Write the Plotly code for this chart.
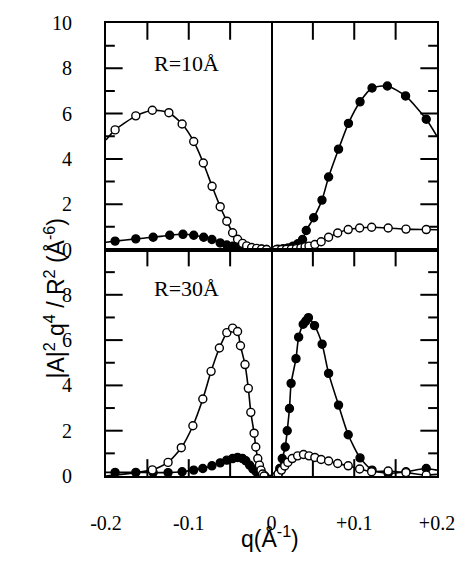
import plotly.graph_objects as go

# ---------------- data ----------------
# Top panel, R = 10 Å
top_open_x = [-0.189, -0.164, -0.144, -0.124, -0.108, -0.094, -0.0824, -0.0718, -0.062, -0.054,
              -0.047, -0.041, -0.035, -0.030, -0.024, -0.018, -0.012, -0.006,
              0.006, 0.012, 0.018, 0.024, 0.030, 0.0355, 0.0406, 0.0453, 0.0524, 0.060,
              0.069, 0.080, 0.0927, 0.1065, 0.121, 0.141, 0.1625, 0.187]
top_open_y = [5.28, 5.90, 6.15, 6.04, 5.54, 4.77, 3.82, 2.79, 1.89, 1.25,
              0.74, 0.45, 0.27, 0.16, 0.09, 0.05, 0.02, 0.0,
              0.0, 0.0, 0.01, 0.02, 0.04, 0.07, 0.12, 0.15, 0.22, 0.34,
              0.54, 0.73, 0.88, 0.95, 0.98, 0.95, 0.90, 0.88]
top_open_edges = [4.84, 0.87]          # curve values at q = -0.2 and +0.2

top_fill_x = [-0.189, -0.164, -0.143, -0.123, -0.107, -0.094, -0.082, -0.072, -0.062, -0.054,
              -0.047, -0.041, -0.035, -0.030, -0.024, -0.018, -0.012, -0.006,
              0.008, 0.014, 0.020, 0.026, 0.032, 0.0375, 0.042, 0.051, 0.061, 0.069,
              0.081, 0.093, 0.107, 0.1215, 0.140, 0.162, 0.187]
top_fill_y = [0.37, 0.47, 0.54, 0.63, 0.67, 0.63, 0.54, 0.44, 0.29, 0.20,
              0.15, 0.10, 0.07, 0.05, 0.03, 0.02, 0.01, 0.0,
              0.01, 0.03, 0.07, 0.15, 0.26, 0.44, 0.84, 1.40, 2.18, 3.20,
              4.43, 5.57, 6.52, 7.13, 7.22, 6.78, 5.75]
top_fill_edges = [0.32, 5.00]

# Bottom panel, R = 30 Å
bot_open_x = [-0.144, -0.125, -0.109, -0.095, -0.083, -0.073, -0.063, -0.054, -0.047, -0.041,
              -0.0375, -0.032, -0.028, -0.025, -0.021, -0.019, -0.0166, -0.0146, -0.0127,
              -0.0107, -0.009,
              0.006, 0.008, 0.012, 0.016, 0.0197, 0.025, 0.0316, 0.0387, 0.0453, 0.0524,
              0.060, 0.069, 0.080, 0.0927, 0.1065, 0.121, 0.141, 0.1625, 0.187]
bot_open_y = [0.27, 0.60, 1.25, 2.22, 3.40, 4.62, 5.65, 6.33, 6.53, 6.38,
              5.75, 4.92, 3.87, 2.81, 1.89, 1.28, 0.77, 0.48, 0.26,
              0.09, 0.0,
              0.0, 0.09, 0.26, 0.44, 0.60, 0.77, 0.89, 0.95, 0.89, 0.82,
              0.73, 0.66, 0.55, 0.45, 0.31, 0.19, 0.22, 0.15, 0.04]
bot_open_edges = [0.0, 0.07]

bot_fill_x = [-0.189, -0.164, -0.143, -0.125, -0.108, -0.094, -0.083, -0.072, -0.062, -0.054,
              -0.047, -0.041, -0.035, -0.031, -0.0264, -0.0225, -0.0186, -0.015, -0.012, -0.008,
              0.008, 0.0099, 0.013, 0.0166, 0.019, 0.0217, 0.0237, 0.0296, 0.0328, 0.0383,
              0.0414, 0.0446, 0.052, 0.0612, 0.069, 0.081, 0.0927, 0.107, 0.1215, 0.141,
              0.1625, 0.187]
bot_fill_y = [0.16, 0.16, 0.15, 0.15, 0.19, 0.26, 0.33, 0.45, 0.58, 0.70,
              0.77, 0.82, 0.77, 0.67, 0.48, 0.31, 0.19, 0.09, 0.03, 0.0,
              0.10, 0.33, 0.77, 1.28, 2.00, 2.98, 4.09, 5.18, 6.13, 6.70,
              6.84, 6.99, 6.64, 5.82, 4.53, 3.13, 1.82, 0.80, 0.26, 0.12,
              0.19, 0.33]
bot_fill_edges = [0.16, 0.26]

x_range = [-0.2, 0.2]
y_range = [0, 10]
x_tickvals = [-0.2, -0.15, -0.1, -0.05, 0.0, 0.05, 0.1, 0.15, 0.2]
x_ticktext = ["-0.2", "", "-0.1", "", "0", "", "+0.1", "", "+0.2"]
top_y_ticks = [0, 2, 4, 6, 8, 10]
bot_y_ticks = [0, 2, 4, 6, 8]
y_minor_ticks = [1, 3, 5, 7, 9]
y_major_inner = [2, 4, 6, 8]
panel_labels = ["R=10Å", "R=30Å"]

# ---------------- figure ----------------
SERIF = "Liberation Serif"
SANS = "Liberation Sans"
NOGRID = "rgba(0,0,0,0)"
W, H = 467, 567
M = dict(l=106, r=23, t=19, b=91)
MAJOR_LEN, MINOR_LEN = 17, 9
plot_w = W - M["l"] - M["r"]
panel_h = (H - M["t"] - M["b"]) / 2.0
x_per_px = (x_range[1] - x_range[0]) / plot_w
y_per_px = (y_range[1] - y_range[0]) / panel_h

fig = go.Figure()

# inward tick marks, drawn on each panel's own scales
inner_x = [v for v in x_tickvals if x_range[0] < v < x_range[1] and v != 0.0]
for xa, ya, bottom_ticks in (("x", "y", False), ("x2", "y2", True)):
    tx, ty = [], []
    for v in inner_x:
        tx += [v, v, None]
        ty += [y_range[1], y_range[1] - MAJOR_LEN * y_per_px, None]
        if bottom_ticks:
            tx += [v, v, None]
            ty += [y_range[0], y_range[0] + MAJOR_LEN * y_per_px, None]
    for vals, ln in ((y_major_inner, MAJOR_LEN), (y_minor_ticks, MINOR_LEN)):
        for v in vals:
            tx += [x_range[0], x_range[0] + ln * x_per_px, None,
                   x_range[1], x_range[1] - ln * x_per_px, None]
            ty += [v, v, None, v, v, None]
    fig.add_trace(go.Scatter(x=tx, y=ty, mode="lines", xaxis=xa, yaxis=ya,
                             line=dict(color="black", width=2), showlegend=False,
                             hoverinfo="skip"))


def add_series(xs, ys, edges, xa, ya, filled):
    lx = [x_range[0]] + xs + [x_range[1]]
    ly = [edges[0]] + ys + [edges[1]]
    fig.add_trace(go.Scatter(x=lx, y=ly, mode="lines", xaxis=xa, yaxis=ya,
                             line=dict(color="black", width=1.6, shape="spline", smoothing=0.6),
                             showlegend=False, hoverinfo="skip"))
    fig.add_trace(go.Scatter(x=xs, y=ys, mode="markers", xaxis=xa, yaxis=ya,
                             marker=dict(symbol="circle", size=8,
                                         color="black" if filled else "white",
                                         line=dict(color="black", width=1.4)),
                             showlegend=False))


add_series(top_fill_x, top_fill_y, top_fill_edges, "x", "y", True)
add_series(top_open_x, top_open_y, top_open_edges, "x", "y", False)
add_series(bot_fill_x, bot_fill_y, bot_fill_edges, "x2", "y2", True)
add_series(bot_open_x, bot_open_y, bot_open_edges, "x2", "y2", False)

tickfont = dict(family=SERIF, size=20, color="black")
frame = dict(showline=True, mirror=True, linecolor="black", linewidth=2, gridcolor=NOGRID)
# transparent outside ticks only set the gap between the frame and the labels
spacer_x = dict(ticks="outside", ticklen=28, tickcolor=NOGRID)
spacer_y = dict(ticks="outside", ticklen=28, tickcolor=NOGRID)

fig.update_layout(
    width=W, height=H, margin=M,
    paper_bgcolor="white", plot_bgcolor="white",
    xaxis={**frame, "anchor": "y", "side": "top", "range": x_range, "tickvals": x_tickvals,
           "showticklabels": False, "ticks": "",
           "zeroline": True, "zerolinecolor": "black", "zerolinewidth": 2},
    xaxis2={**frame, **spacer_x, "anchor": "y2", "side": "bottom", "range": x_range,
            "tickvals": x_tickvals, "ticktext": x_ticktext,
            "zeroline": True, "zerolinecolor": "black", "zerolinewidth": 2,
            "tickfont": tickfont},
    yaxis={**frame, **spacer_y, "domain": [0.5, 1.0], "anchor": "x", "range": y_range,
           "tickvals": top_y_ticks, "zeroline": False, "tickfont": tickfont},
    yaxis2={**frame, **spacer_y, "domain": [0.0, 0.5], "anchor": "x2", "range": y_range,
            "tickvals": bot_y_ticks, "zeroline": False, "tickfont": tickfont},
)

fig.add_annotation(x=-0.103, y=8.2, xref="x", yref="y", text=panel_labels[0], showarrow=False,
                   font=dict(family=SERIF, size=22, color="black"))
fig.add_annotation(x=-0.103, y=8.3, xref="x2", yref="y2", text=panel_labels[1], showarrow=False,
                   font=dict(family=SERIF, size=22, color="black"))

fig.add_annotation(x=0.494, y=-0.135, xref="paper", yref="paper", yanchor="middle",
                   text="q(Å<sup>-1</sup>)", showarrow=False,
                   font=dict(family=SANS, size=23, color="black"))
fig.add_annotation(x=-0.205, y=0.392, xref="paper", yref="paper", textangle=-90,
                   text="|A|<sup>2</sup> q<sup>4</sup> / R<sup>2</sup> (Å<sup>-6</sup>)",
                   showarrow=False, font=dict(family=SANS, size=23, color="black"))

fig.write_html("out.html")
